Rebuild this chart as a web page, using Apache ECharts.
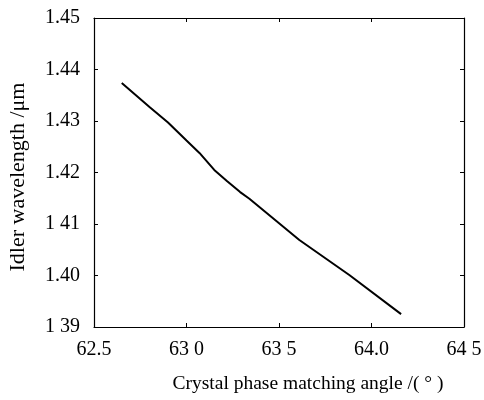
<!DOCTYPE html>
<html><head><meta charset="utf-8">
<script src="https://cdn.jsdelivr.net/npm/echarts@6/dist/echarts.min.js"></script>
<style>html,body{margin:0;padding:0;background:#fff}#c{width:484px;height:400px}</style>
</head><body><div id="c"></div>
<script>
var angle = [62.65, 62.80, 62.90, 63.00, 63.07, 63.15, 63.22, 63.29, 63.34, 63.61, 63.88, 64.16];
var wavelength = [1.4374, 1.4327, 1.4297, 1.4262, 1.4238, 1.4205, 1.4183, 1.4162, 1.4149, 1.4069, 1.4001, 1.3925];
var xTickLabels = {'62.5':'62.5','63':'63 0','63.5':'63 5','64':'64.0','64.5':'64 5'};
var yTickLabels = {'1.39':'1 39','1.4':'1.40','1.41':'1 41','1.42':'1.42','1.43':'1.43','1.44':'1.44','1.45':'1.45'};
var xTitle = 'Crystal phase matching angle /( \u00B0 )';
var yTitle = 'Idler wavelength /\u03BCm';

var font = 'Liberation Serif';
var chart = echarts.init(document.getElementById('c'));
var axisLine = {show:true, lineStyle:{color:'#000', width:1.2}};
var tick = {show:true, inside:true, length:4, lineStyle:{color:'#000'}};
chart.setOption({
  backgroundColor:'#fff',
  animation:false,
  grid:{left:94, right:20, top:18, bottom:73, containLabel:false, outerBoundsMode:'none'},
  xAxis:[{
    type:'value', min:62.5, max:64.5, interval:0.5,
    axisLine:axisLine, axisTick:tick, splitLine:{show:false},
    axisLabel:{color:'#000', fontFamily:font, fontSize:20, margin:13,
      formatter:function(v){var k=String(Math.round(v*10)/10);return xTickLabels[k]||k;}},
    name:xTitle, nameLocation:'middle', nameGap:47,
    nameTextStyle:{color:'#000', fontFamily:font, fontSize:19.5, padding:[0,0,0,58]}
  },{
    type:'value', position:'top', min:62.5, max:64.5, interval:0.5,
    axisLine:axisLine, axisTick:tick, axisLabel:{show:false}, splitLine:{show:false}
  }],
  yAxis:[{
    type:'value', min:1.39, max:1.45, interval:0.01,
    axisLine:axisLine, axisTick:tick, splitLine:{show:false},
    axisLabel:{color:'#000', fontFamily:font, fontSize:20, margin:14,
      formatter:function(v){var k=String(Math.round(v*100)/100);return yTickLabels[k]||k;}},
    name:yTitle, nameLocation:'middle', nameGap:65, nameRotate:90,
    nameTextStyle:{color:'#000', fontFamily:font, fontSize:22, padding:[0,9,0,0], align:'center'}
  },{
    type:'value', position:'right', min:1.39, max:1.45, interval:0.01,
    axisLine:axisLine, axisTick:tick, axisLabel:{show:false}, splitLine:{show:false}
  }],
  series:[{
    type:'line', showSymbol:false, smooth:false,
    data: angle.map(function(a,i){return [a, wavelength[i]];}),
    lineStyle:{color:'#000', width:2}
  }]
});
</script>
</body></html>
